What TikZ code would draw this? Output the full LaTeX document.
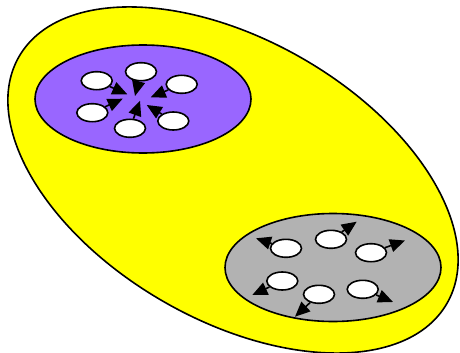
\documentclass[tikz,border=0pt]{standalone}
\usepackage{tikz}
\usetikzlibrary{arrows.meta,shapes.geometric}
\definecolor{bigyellow}{HTML}{FFFF00}
\definecolor{lilac}{HTML}{9966FF}
\definecolor{stone}{HTML}{B2B2B2}
\tikzset{
  outerblob/.style={ellipse,draw=black,fill=bigyellow,line width=1.6pt,
                    inner sep=0pt,minimum width=494pt,minimum height=280pt},
  cluster/.style={ellipse,draw=black,line width=1.6pt,inner sep=0pt,
                  minimum width=216pt,minimum height=108pt},
  member/.style={ellipse,draw=black,fill=white,line width=1.6pt,
                 inner sep=0pt,minimum width=31pt,minimum height=18pt},
  flow/.style={-{Triangle[length=15pt,width=13pt]},line width=1.6pt,
               draw=black}
}

\begin{document}
\begin{tikzpicture}[x=1pt,y=-1pt]
    \useasboundingbox (0,0) rectangle (460,353);
    \node[outerblob,rotate=-30] (outer) at (233,180) {};
    \node[cluster,fill=lilac] (inward) at (143,99) {};
    \node[cluster,fill=stone] (outward) at (333,267.5) {};
    % members pulled together
    \foreach \n/\x/\y/\tx/\ty in {1/96.7/80.7/127.3/94.3, 2/141/71.7/135/96,
                                  3/181.7/84.3/150.7/97.3, 4/92.3/112.7/122.7/98.7,
                                  5/130/128.3/140/100.7, 6/173.3/121/146.7/105}{
      \node[member] (p\n) at (\x,\y) {};
      \coordinate (pin\n) at (\tx,\ty);
      \draw[flow] (p\n) -- (pin\n);
    }
    % members pushed apart
    \foreach \n/\x/\y/\tx/\ty in {1/286/248.3/256/238.3, 2/331/239.3/356.7/221.7,
                                  3/371/252.7/405/240.5, 4/282.3/281/252.3/295,
                                  5/319/294.3/295/316.7, 6/362.7/289.3/393/302}{
      \node[member] (g\n) at (\x,\y) {};
      \coordinate (gout\n) at (\tx,\ty);
      \draw[flow] (g\n) -- (gout\n);
    }
\end{tikzpicture}
\end{document}
